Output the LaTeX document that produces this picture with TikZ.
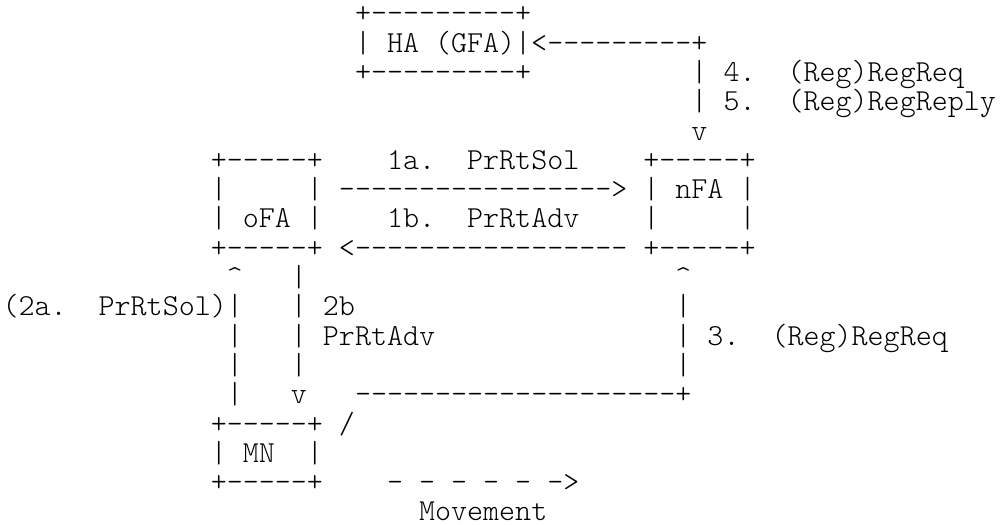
\documentclass[tikz,border=0pt]{standalone}
\usepackage{fontspec}
\tikzset{ascii/.style={font=\ttfamily\fontseries{l}\fontsize{11.43pt}{12pt}\selectfont, inner sep=0pt, anchor=base west, xshift=0.75pt, yshift=-8.58pt}}
\begin{document}
\begin{tikzpicture}[x=6pt, y=-10.97pt]
	\path [use as bounding box] (0pt,0pt) rectangle (374.5pt,-196.6pt);
	\node [ascii] (haTop) at (22,0) {+---------+};
	\node [ascii] (haMid) at (22,1) {| HA (GFA)|};
	\node [ascii] (haLink) at (33,1) {<---------+};
	\node [ascii] (haBot) at (22,2) {+---------+};
	\node [ascii] (regA) at (43,2) {|};
	\node [ascii] (msgFour) at (45,2) {4.};
	\node [ascii] (msgFourTxt) at (49,2) {(Reg)RegReq};
	\node [ascii] (regB) at (43,3) {|};
	\node [ascii] (msgFive) at (45,3) {5.};
	\node [ascii] (msgFiveTxt) at (49,3) {(Reg)RegReply};
	\node [ascii] (regTip) at (43,4) {v};
	\node [ascii] (ofaTop) at (13,5) {+-----+};
	\node [ascii] (msgOneA) at (24,5) {1a.};
	\node [ascii] (msgOneATxt) at (29,5) {PrRtSol};
	\node [ascii] (nfaTop) at (40,5) {+-----+};
	\node [ascii] (ofaLeft) at (13,6) {|};
	\node [ascii] (ofaRight) at (19,6) {|};
	\node [ascii] (solArrow) at (21,6) {----------------->};
	\node [ascii] (nfaMid) at (40,6) {| nFA |};
	\node [ascii] (ofaMid) at (13,7) {| oFA |};
	\node [ascii] (msgOneB) at (24,7) {1b.};
	\node [ascii] (msgOneBTxt) at (29,7) {PrRtAdv};
	\node [ascii] (nfaLeft) at (40,7) {|};
	\node [ascii] (nfaRight) at (46,7) {|};
	\node [ascii] (ofaBot) at (13,8) {+-----+};
	\node [ascii] (advArrow) at (21,8) {<-----------------};
	\node [ascii] (nfaBot) at (40,8) {+-----+};
	\node [ascii] (upTip) at (14,9) {\textasciicircum};
	\node [ascii] (downA) at (18,9) {|};
	\node [ascii] (regTipB) at (42,9) {\textasciicircum};
	\node [ascii] (msgTwoA) at (0,10) {(2a.};
	\node [ascii] (msgTwoATxt) at (6,10) {PrRtSol)|};
	\node [ascii] (downB) at (18,10) {|};
	\node [ascii] (msgTwoB) at (20,10) {2b};
	\node [ascii] (regC) at (42,10) {|};
	\node [ascii] (upC) at (14,11) {|};
	\node [ascii] (downC) at (18,11) {|};
	\node [ascii] (msgTwoBTxt) at (20,11) {PrRtAdv};
	\node [ascii] (regD) at (42,11) {|};
	\node [ascii] (msgThree) at (44,11) {3.};
	\node [ascii] (msgThreeTxt) at (48,11) {(Reg)RegReq};
	\node [ascii] (upD) at (14,12) {|};
	\node [ascii] (downD) at (18,12) {|};
	\node [ascii] (regE) at (42,12) {|};
	\node [ascii] (upE) at (14,13) {|};
	\node [ascii] (downTip) at (18,13) {v};
	\node [ascii] (regLine) at (22,13) {--------------------+};
	\node [ascii] (mnTop) at (13,14) {+-----+};
	\node [ascii] (slash) at (21,14) {/};
	\node [ascii] (mnMid) at (13,15) {| MN};
	\node [ascii] (mnRight) at (19,15) {|};
	\node [ascii] (mnBot) at (13,16) {+-----+};
	\node [ascii] (move) at (24,16) {- - - - - ->};
	\node [ascii] (moveTxt) at (26,17) {Movement};
\end{tikzpicture}
\end{document}
